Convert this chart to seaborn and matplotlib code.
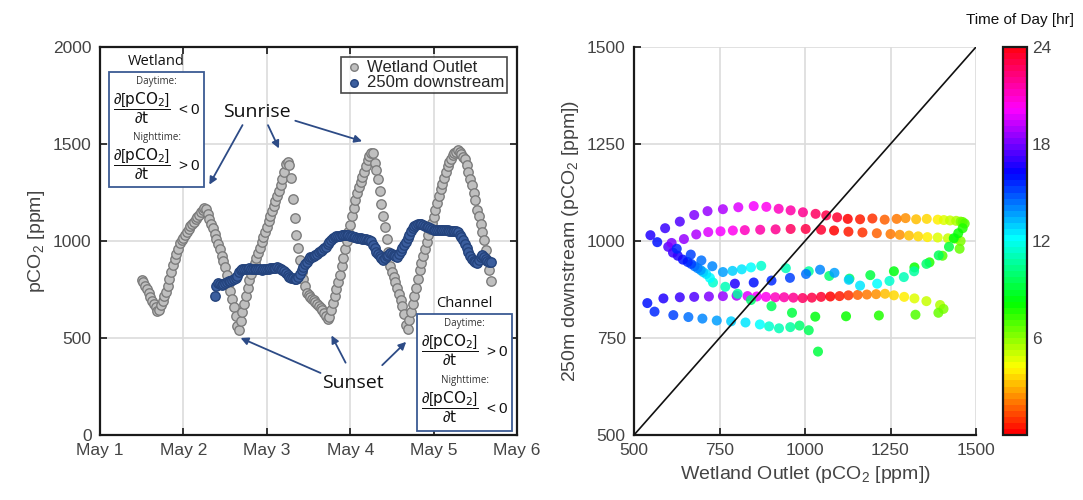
import numpy as np
import pandas as pd
import seaborn as sns
import matplotlib.pyplot as plt
import matplotlib.dates as mdates
from matplotlib.patches import Rectangle
from matplotlib.cm import ScalarMappable
from matplotlib.colors import Normalize

# half-hourly pCO2 [ppm]
wetland_start = '2015-05-01 12:00'
wetland_ppm = [
    800, 790, 770, 752, 731, 712, 692, 675, 658, 640, 646, 668, 691, 714, 738, 769,
    805, 841, 877, 906, 933, 960, 988, 1003, 1018, 1032, 1047, 1061, 1076, 1088, 1100, 1112,
    1124, 1136, 1148, 1160, 1171, 1165, 1140, 1115, 1090, 1065, 1038, 1011, 984, 957, 924, 895,
    868, 826, 784, 742, 700, 659, 615, 560, 539, 586, 634, 676, 719, 760, 800, 832,
    859, 886, 913, 939, 966, 993, 1020, 1047, 1074, 1101, 1127, 1154, 1181, 1208, 1234, 1260,
    1290, 1320, 1355, 1395, 1405, 1390, 1323, 1216, 1120, 1030, 962, 902, 842, 803, 767, 731,
    722, 711, 702, 695, 686, 677, 667, 657, 643, 628, 614, 600, 610, 646, 682, 717,
    753, 789, 824, 869, 914, 958, 1002, 1047, 1085, 1127, 1168, 1210, 1250, 1277, 1304, 1331,
    1358, 1388, 1418, 1440, 1455, 1452, 1402, 1364, 1320, 1260, 1191, 1130, 1071, 1011, 944, 872,
    842, 815, 788, 760, 729, 697, 666, 625, 568, 548, 591, 634, 676, 715, 760, 805,
    850, 887, 923, 958, 994, 1031, 1062, 1094, 1125, 1161, 1197, 1233, 1268, 1294, 1325, 1356,
    1388, 1406, 1424, 1442, 1455, 1461, 1467, 1461, 1448, 1435, 1421, 1391, 1355, 1319, 1289, 1247,
    1211, 1161, 1128, 1086, 1044, 1003, 956, 902, 850, 795,
]

downstream_start = '2015-05-02 09:00'
downstream_ppm = [
    715, 770, 782, 778, 775, 780, 785, 790, 793, 795, 800, 804, 809, 818, 840, 852,
    855, 856, 857, 858, 859, 858, 857, 856, 855, 855, 854, 853, 854, 856, 857, 858,
    860, 861, 862, 863, 864, 860, 856, 852, 845, 835, 825, 815, 810, 808, 806, 805,
    815, 832, 848, 864, 882, 893, 905, 915, 920, 925, 930, 935, 941, 946, 952, 962,
    970, 985, 995, 1005, 1017, 1023, 1025, 1027, 1028, 1029, 1030, 1031, 1031, 1029, 1027, 1024,
    1022, 1020, 1018, 1016, 1014, 1012, 1010, 1009, 1007, 1006, 1000, 980, 962, 945, 932, 922,
    912, 903, 910, 922, 930, 936, 932, 927, 923, 920, 935, 950, 965, 980, 997, 1015,
    1033, 1050, 1067, 1077, 1082, 1087, 1090, 1088, 1083, 1079, 1074, 1070, 1066, 1061, 1057, 1056,
    1058, 1055, 1057, 1059, 1056, 1057, 1055, 1054, 1053, 1052, 1050, 1049, 1045, 1033, 1020, 1007,
    985, 963, 941, 922, 907, 897, 890, 885, 900, 918, 926, 915, 905, 898, 893, 890,
]

colorbar_ticks = [6, 12, 18, 24]

df_w = pd.DataFrame({'time': pd.date_range(wetland_start, periods=len(wetland_ppm), freq='30min'),
                     'pco2': wetland_ppm})
df_d = pd.DataFrame({'time': pd.date_range(downstream_start, periods=len(downstream_ppm), freq='30min'),
                     'pco2': downstream_ppm})
pair = df_w.merge(df_d, on='time', suffixes=('_wet', '_down'))
pair['hour'] = pair['time'].dt.hour + pair['time'].dt.minute / 60.0

sns.set_style('ticks')
plt.rcParams['font.family'] = ['Liberation Sans', 'DejaVu Sans']
plt.rcParams['mathtext.default'] = 'regular'
plt.rcParams['xtick.direction'] = 'in'
plt.rcParams['ytick.direction'] = 'in'
plt.rcParams['axes.labelcolor'] = '#444444'
plt.rcParams['xtick.labelcolor'] = '#444444'
plt.rcParams['ytick.labelcolor'] = '#444444'

fig = plt.figure(figsize=(10.83, 5.0), dpi=100)
ax1 = fig.add_axes([100/1083, 65/500, 417/1083, 388/500])
ax2 = fig.add_axes([634/1083, 65/500, 342/1083, 388/500])
cax = fig.add_axes([1003/1083, 65/500, 24/1083, 388/500])

grid_c = '#dcdcdc'

# ---- left: time series
sns.scatterplot(data=df_w, x='time', y='pco2', ax=ax1, color='#bfbfbf', edgecolor='#7c7c7c',
                s=46, linewidth=1.0, label='Wetland Outlet', zorder=3)
sns.scatterplot(data=df_d, x='time', y='pco2', ax=ax1, color='#3b5e9e', edgecolor='#24437c',
                s=46, linewidth=1.0, label='250m downstream', zorder=4)

ax1.set_xlim(pd.Timestamp('2015-05-01'), pd.Timestamp('2015-05-06'))
ax1.set_ylim(0, 2000)
ax1.set_yticks([0, 500, 1000, 1500, 2000])
ax1.xaxis.set_major_locator(mdates.DayLocator())
ax1.xaxis.set_major_formatter(mdates.DateFormatter('%b %-d'))
ax1.grid(True, color=grid_c, lw=1.2, zorder=0)
ax1.set_axisbelow(True)
ax1.set_xlabel('')
ax1.set_ylabel('pCO$_2$ [ppm]', fontsize=14)
ax1.tick_params(labelsize=12.5, length=5, width=1.3, top=True, right=True, pad=6)
for sp in ax1.spines.values():
    sp.set_linewidth(1.6)
    sp.set_color('#1a1a1a')

leg = ax1.legend(loc='upper right', fontsize=12, frameon=True, fancybox=False, edgecolor='#1a1a1a',
                 handletextpad=0.2, borderpad=0.15, labelspacing=0.05, borderaxespad=0.6,
                 handlelength=1.2, markerscale=0.8)
leg.get_frame().set_linewidth(1.2)

ann_c = '#2d4b86'
ann_font = ['Open Sans', 'DejaVu Sans']
ax1.text(0.376, 0.832, 'Sunrise', transform=ax1.transAxes, ha='center', va='center',
         fontsize=14, family=ann_font, color='#111111')
for tail, head in [((0.345, 0.805), (0.259, 0.639)),
                   ((0.400, 0.805), (0.432, 0.732)),
                   ((0.462, 0.812), (0.635, 0.755))]:
    ax1.annotate('', xy=head, xytext=tail, xycoords='axes fraction',
                 arrowprops=dict(arrowstyle='-|>', color=ann_c, lw=1.3, mutation_scale=11))
ax1.text(0.607, 0.134, 'Sunset', transform=ax1.transAxes, ha='center', va='center',
         fontsize=14, family=ann_font, color='#111111')
for tail, head in [((0.535, 0.157), (0.331, 0.253)),
                   ((0.592, 0.180), (0.552, 0.263)),
                   ((0.672, 0.175), (0.739, 0.245))]:
    ax1.annotate('', xy=head, xytext=tail, xycoords='axes fraction',
                 arrowprops=dict(arrowstyle='-|>', color=ann_c, lw=1.3, mutation_scale=11))

frac = r'$\dfrac{\partial[\mathrm{pCO_2}]}{\partial \mathrm{t}}$'
boxes = [('Wetland', 109, 72, 204, 187, '<', '>'),
         ('Channel', 417, 314, 512, 431, '>', '<')]
for title, x0, y0, x1, y1, s_day, s_night in boxes:
    fx0, fx1 = (x0 - 100) / 417, (x1 - 100) / 417
    fy0, fy1 = (435 - y1) / 388, (435 - y0) / 388
    ax1.add_patch(Rectangle((fx0, fy0), fx1 - fx0, fy1 - fy0, transform=ax1.transAxes,
                            fill=True, facecolor='white', edgecolor='#3b5a93', lw=1.3, zorder=6))
    cx = (fx0 + fx1) / 2
    h = fy1 - fy0
    ax1.text(cx, fy1 + 0.028, title, transform=ax1.transAxes, ha='center', va='center',
             fontsize=10.5, family=ann_font, color='#111111', zorder=7)
    ax1.text(cx, fy1 - 0.08 * h, 'Daytime:', transform=ax1.transAxes, ha='center', va='center',
             fontsize=7, family=ann_font, color='#333333', zorder=7)
    ax1.text(cx, fy1 - 0.31 * h, frac + r'$\ ' + s_day + ' 0$', transform=ax1.transAxes, ha='center',
             va='center', fontsize=11, color='#111111', zorder=7)
    ax1.text(cx, fy1 - 0.57 * h, 'Nighttime:', transform=ax1.transAxes, ha='center', va='center',
             fontsize=7, family=ann_font, color='#333333', zorder=7)
    ax1.text(cx, fy1 - 0.80 * h, frac + r'$\ ' + s_night + ' 0$', transform=ax1.transAxes, ha='center',
             va='center', fontsize=11, color='#111111', zorder=7)

# ---- right: downstream vs wetland, coloured by time of day
cmap = plt.get_cmap('hsv', 64)
sns.scatterplot(data=pair, x='pco2_wet', y='pco2_down', hue='hour', palette=cmap, hue_norm=(0, 24),
                legend=False, s=52, linewidth=0, alpha=0.85, ax=ax2, zorder=3)
ax2.axline((500, 500), slope=1, color='#111111', lw=1.2, zorder=4)
ax2.set_xlim(500, 1500)
ax2.set_ylim(500, 1500)
ax2.set_xticks([500, 750, 1000, 1250, 1500])
ax2.set_yticks([500, 750, 1000, 1250, 1500])
ax2.grid(True, color=grid_c, lw=1.2, zorder=0)
ax2.set_axisbelow(True)
ax2.set_xlabel('Wetland Outlet (pCO$_2$ [ppm])', fontsize=14)
ax2.set_ylabel('250m downstream (pCO$_2$ [ppm])', fontsize=14)
ax2.tick_params(labelsize=12.5, length=5, width=1.3, pad=6)
for side in ['top', 'right']:
    ax2.spines[side].set_visible(False)
for side in ['left', 'bottom']:
    ax2.spines[side].set_linewidth(1.6)
    ax2.spines[side].set_color('#1a1a1a')

sm = ScalarMappable(norm=Normalize(0, 24), cmap=cmap)
cb = fig.colorbar(sm, cax=cax, ticks=colorbar_ticks)
cb.outline.set_linewidth(1.6)
cb.outline.set_edgecolor('#1a1a1a')
cax.tick_params(labelsize=12.5, direction='in', length=5, width=1.3, labelcolor='#444444')
cax.text(0.7, 1.07, 'Time of Day [hr]', transform=cax.transAxes, ha='center', va='center',
         fontsize=11, color='#111111')

fig.savefig('out.png', dpi=100)
